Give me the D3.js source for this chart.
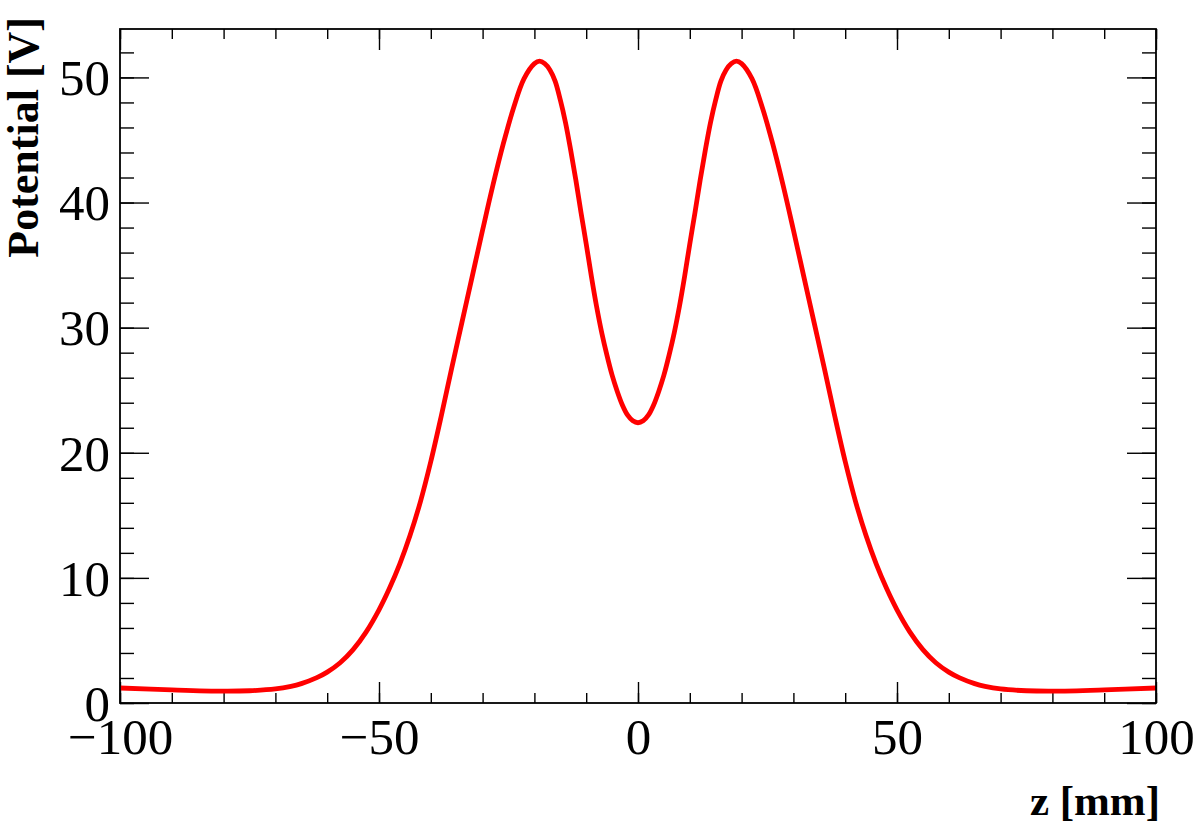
<!DOCTYPE html>
<html>
<head>
<meta charset="utf-8">
<script src="https://cdn.jsdelivr.net/npm/d3@7"></script>
<style>
  html, body { margin: 0; padding: 0; background: #fff; }
  svg { display: block; }
</style>
</head>
<body>
<svg id="chart" width="1198" height="827"></svg>
<script>
// ---- data ----
const zValues = [-100, -90, -80, -75, -70, -67, -65, -62, -60, -57.5, -55, -52.5, -50, -48, -46, -44, -42, -40, -38, -36, -34, -32, -30, -28, -26, -24, -22, -20, -19, -18, -17, -16, -15, -14, -13, -12, -11, -10, -9, -8, -7, -6, -5, -4, -3, -2, -1, 0,
                 1, 2, 3, 4, 5, 6, 7, 8, 9, 10, 11, 12, 13, 14, 15, 16, 17, 18, 19, 20, 22, 24, 26, 28, 30, 32, 34, 36, 38, 40, 42, 44, 46, 48, 50, 52.5, 55, 57.5, 60, 62, 65, 67, 70, 75, 80, 90, 100];
const potential = [1.2, 1.05, 0.95, 0.98, 1.12, 1.33, 1.55, 2.03, 2.47, 3.22, 4.27, 5.67, 7.45, 9.15, 11.1, 13.4, 16.1, 19.3, 22.9, 26.7, 30.4, 34.1, 37.8, 41.4, 44.7, 47.6, 49.9, 51.1, 51.3, 51.1, 50.6, 49.7, 48.2, 46.4, 44.2, 41.8, 39.2, 36.7, 34.1, 31.7, 29.6, 27.8, 26.2, 24.9, 23.8, 23.0, 22.55, 22.4,
                   22.55, 23.0, 23.8, 24.9, 26.2, 27.8, 29.6, 31.7, 34.1, 36.7, 39.2, 41.8, 44.2, 46.4, 48.2, 49.7, 50.6, 51.1, 51.3, 51.1, 49.9, 47.6, 44.7, 41.4, 37.8, 34.1, 30.4, 26.7, 22.9, 19.3, 16.1, 13.4, 11.1, 9.15, 7.45, 5.67, 4.27, 3.22, 2.47, 2.03, 1.55, 1.33, 1.12, 0.98, 0.95, 1.05, 1.2];
const xMajorTicks = [-100, -50, 0, 50, 100];
const xMinorTicks = d3.range(-100, 101, 10);
const yMajorTicks = [0, 10, 20, 30, 40, 50];
const yMinorTicks = d3.range(0, 53, 2);
const xDomain = [-100, 100];
const yDomain = [0, 53.87];
const xTitle = "z [mm]";
const yTitle = "Potential [V]";

// ---- layout ----
const L = 120, R = 1156, T = 29, B = 703;
const svg = d3.select("#chart");
const x = d3.scaleLinear().domain(xDomain).range([L, R]);
const y = d3.scaleLinear().domain(yDomain).range([B, T]);

const FONT = "'Liberation Serif','Times New Roman',Times,serif";
const fmt = d => (d < 0 ? "\u2212" + Math.abs(d) : String(d));

function styleAxis(g) {
  g.select(".domain").remove();
  g.selectAll(".tick line").attr("stroke", "#000").attr("stroke-width", 1.4);
}

// minor ticks
svg.append("g").attr("transform", `translate(0,${B})`)
  .call(d3.axisBottom(x).tickValues(xMinorTicks).tickSizeInner(-10).tickSizeOuter(0).tickFormat(""))
  .call(styleAxis);
svg.append("g").attr("transform", `translate(0,${T})`)
  .call(d3.axisTop(x).tickValues(xMinorTicks).tickSizeInner(-10).tickSizeOuter(0).tickFormat(""))
  .call(styleAxis);
svg.append("g").attr("transform", `translate(${L},0)`)
  .call(d3.axisLeft(y).tickValues(yMinorTicks).tickSizeInner(-14).tickSizeOuter(0).tickFormat(""))
  .call(styleAxis);
svg.append("g").attr("transform", `translate(${R},0)`)
  .call(d3.axisRight(y).tickValues(yMinorTicks).tickSizeInner(-14).tickSizeOuter(0).tickFormat(""))
  .call(styleAxis);

// major ticks
const xb = svg.append("g").attr("transform", `translate(0,${B})`)
  .call(d3.axisBottom(x).tickValues(xMajorTicks).tickSizeInner(-21).tickSizeOuter(0).tickFormat(fmt))
  .call(styleAxis);
xb.selectAll(".tick text")
  .attr("y", 51).attr("dy", 0)
  .attr("font-family", FONT).attr("font-size", 51).attr("fill", "#000");

svg.append("g").attr("transform", `translate(0,${T})`)
  .call(d3.axisTop(x).tickValues(xMajorTicks).tickSizeInner(-21).tickSizeOuter(0).tickFormat(""))
  .call(styleAxis);

const yl = svg.append("g").attr("transform", `translate(${L},0)`)
  .call(d3.axisLeft(y).tickValues(yMajorTicks).tickSizeInner(-29).tickSizeOuter(0).tickFormat(fmt))
  .call(styleAxis);
yl.selectAll(".tick text")
  .attr("x", -10).attr("dy", "0.34em")
  .attr("font-family", FONT).attr("font-size", 51).attr("fill", "#000");

svg.append("g").attr("transform", `translate(${R},0)`)
  .call(d3.axisRight(y).tickValues(yMajorTicks).tickSizeInner(-29).tickSizeOuter(0).tickFormat(""))
  .call(styleAxis);

// curve
const pts = zValues.map((z, i) => [z, potential[i]]);
const line = d3.line().x(d => x(d[0])).y(d => y(d[1])).curve(d3.curveCatmullRom.alpha(0.5));
svg.append("path")
  .datum(pts)
  .attr("d", line)
  .attr("fill", "none")
  .attr("stroke", "#ff0000")
  .attr("stroke-width", 4.8)
  .attr("stroke-linejoin", "round");

// frame
svg.append("rect")
  .attr("x", L).attr("y", T).attr("width", R - L).attr("height", B - T)
  .attr("fill", "none").attr("stroke", "#000").attr("stroke-width", 1.8);

// titles
svg.append("text")
  .attr("x", 1160).attr("y", 815)
  .attr("text-anchor", "end")
  .attr("font-family", FONT).attr("font-weight", "bold").attr("font-size", 43)
  .text(xTitle);

svg.append("text")
  .attr("transform", "translate(38,17) rotate(-90)")
  .attr("text-anchor", "end")
  .attr("font-family", FONT).attr("font-weight", "bold").attr("font-size", 44)
  .text(yTitle);
</script>
</body>
</html>
